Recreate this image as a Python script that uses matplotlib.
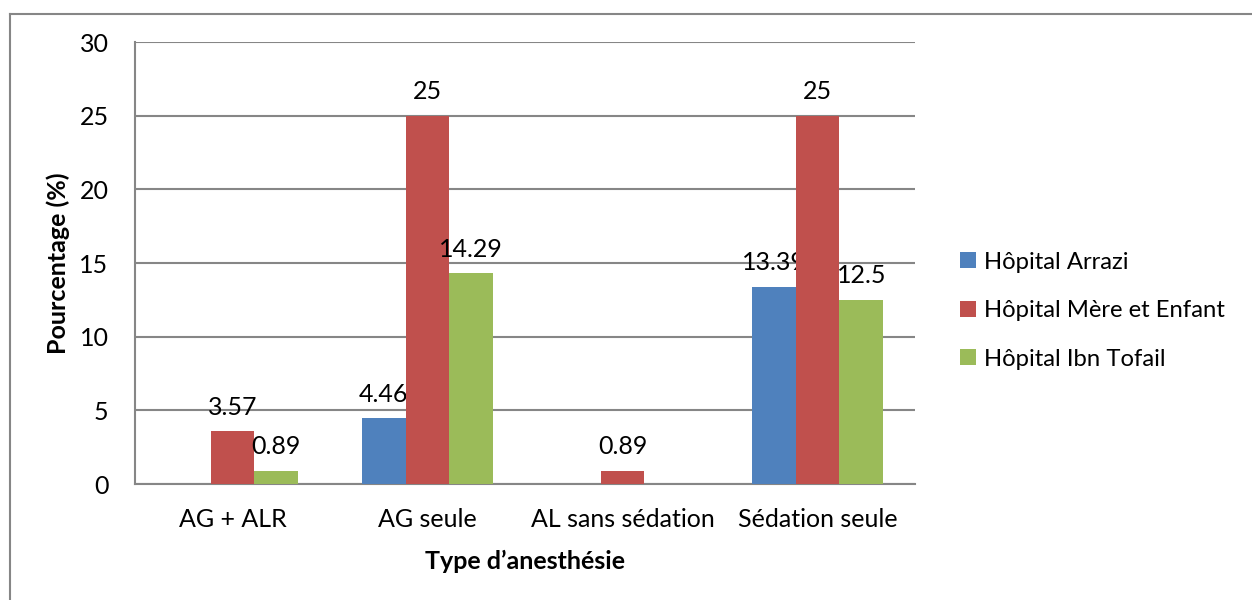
import numpy as np
import matplotlib
matplotlib.use("Agg")
import matplotlib.pyplot as plt
from matplotlib.lines import Line2D
from matplotlib.patches import Patch

plt.rcParams["font.family"] = ["Lato", "DejaVu Sans"]

# ── data ─────────────────────────────────────────────────────────────────────
categories = ["AG + ALR", "AG seule", "AL sans sédation", "Sédation seule"]
series_names = ["Hôpital Arrazi", "Hôpital Mère et Enfant", "Hôpital Ibn Tofail"]
arrazi = [0, 4.46, 0, 13.39]
mere_enfant = [3.57, 25, 0.89, 25]
ibn_tofail = [0.89, 14.29, 0, 12.5]

COLORS = ["#4F81BD", "#C0504D", "#9BBB59"]
GRID = "#868686"
FS = 18

fig = plt.figure(figsize=(12.52, 6.0), dpi=100, facecolor="white")
ax = fig.add_axes([0.1078, 0.1933, 0.6230, 0.7367])

x = np.arange(len(categories))
width = 0.225
for i, (vals, name, col) in enumerate(zip([arrazi, mere_enfant, ibn_tofail],
                                          series_names, COLORS)):
    pos = x + (i - 1) * width
    bars = ax.bar(pos, vals, width=width, color=col, label=name, zorder=3,
                  linewidth=0)
    for b, v in zip(bars, vals):
        if v > 0:
            ax.annotate(f"{v:g}", (b.get_x() + b.get_width() / 2, v),
                        xytext=(0, 9), textcoords="offset points",
                        ha="center", va="bottom", fontsize=FS, color="black")

ax.set_xlim(-0.5, len(categories) - 0.5)
ax.set_ylim(0, 30)
ax.set_yticks(range(0, 31, 5))
ax.set_xticks(x)
ax.set_xticklabels(categories)
ax.tick_params(axis="both", length=0, labelsize=FS, colors="black")
ax.tick_params(axis="x", pad=17)
ax.tick_params(axis="y", pad=19)

ax.grid(axis="y", color=GRID, linewidth=1.5, zorder=0)
ax.set_axisbelow(True)
for s in ("top", "right"):
    ax.spines[s].set_visible(False)
for s in ("left", "bottom"):
    ax.spines[s].set_color(GRID)
    ax.spines[s].set_linewidth(1.5)

ax.set_ylabel("Pourcentage (%)", fontsize=FS, fontweight="bold", labelpad=7)
ax.set_xlabel("Type d\u2019anesthésie", fontsize=FS, fontweight="bold",
              labelpad=14)

handles = [Patch(facecolor=c, label=n) for c, n in zip(COLORS, series_names)]
fig.legend(handles=handles, loc="center left", bbox_to_anchor=(0.767, 0.482),
           frameon=False, fontsize=17.2, handlelength=0.65, handleheight=0.65,
           handletextpad=0.35, labelspacing=1.15, borderpad=0, borderaxespad=0)

# chart frame (left and top edges fall inside the canvas)
fig.add_artist(Line2D([9.5 / 1252, 9.5 / 1252], [0, 1 - 13.5 / 600],
                      transform=fig.transFigure, color=GRID, linewidth=1.5))
fig.add_artist(Line2D([9.5 / 1252, 1], [1 - 13.5 / 600, 1 - 13.5 / 600],
                      transform=fig.transFigure, color=GRID, linewidth=1.5))

fig.savefig("out.png", dpi=100, facecolor="white")
